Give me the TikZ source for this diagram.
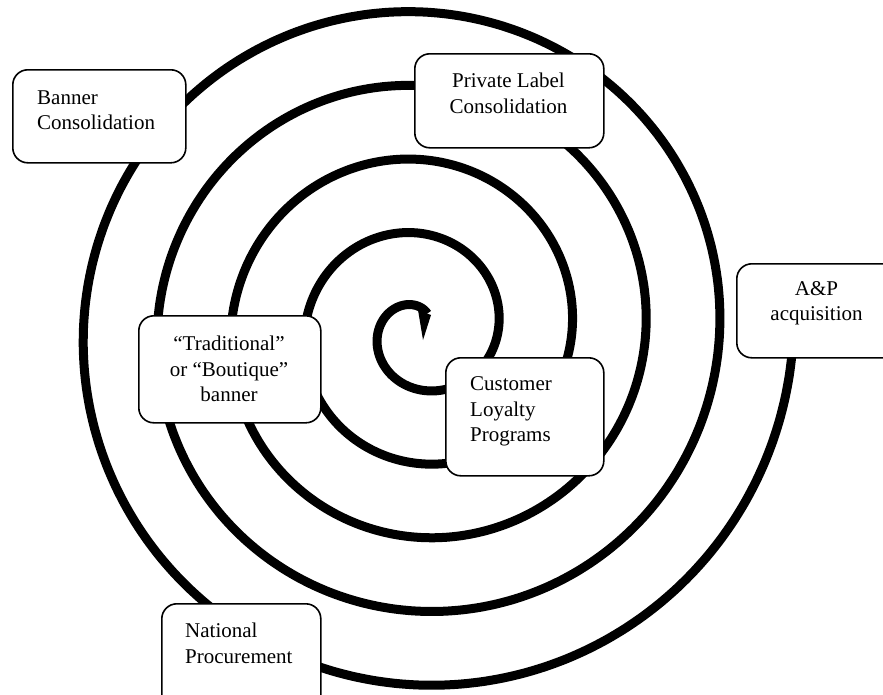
\documentclass[tikz,border=0pt]{standalone}
\usepackage{fontspec}
\setmainfont{Liberation Serif}
\begin{document}
\begin{tikzpicture}[x=1pt,y=-1pt,
  coil/.style={line width=9pt, line cap=butt},
  card/.style={draw, line width=1.6pt, rounded corners=15pt, fill=white,
               inner sep=0pt, anchor=north west},
  lbl/.style={font=\fontsize{21}{25.5}\selectfont, inner sep=0pt}]
\useasboundingbox (0,0) rectangle (883,694);
\clip (0,0) rectangle (883,694);

% Archimedean spiral, winding outward counter-clockwise
\draw[coil] plot[domain=66:1800, samples=500, smooth, variable=\t]
  ({420+(4.5+0.205*\t)*cos(\t)}, {330-(4.5+0.205*\t)*sin(\t)});
% pointed hook at the inner end
\fill (418,310) -- (431,315) -- (423,340) -- cycle;

% boxes
\node[card, minimum width=173pt, minimum height=93pt]  (banner)  at (12,69)   {};
\node[card, minimum width=189pt, minimum height=94pt]  (private) at (414,53)  {};
\node[card, minimum width=162pt, minimum height=94pt]  (ap)      at (736,263) {};
\node[card, minimum width=182pt, minimum height=107pt] (trad)    at (138,315) {};
\node[card, minimum width=158pt, minimum height=118pt] (loyal)   at (445,357) {};
\node[card, minimum width=159pt, minimum height=110pt] (natl)    at (161,603) {};

% labels
\node[lbl, align=left, anchor=west]  (bannerT)  at (37,110)    {Banner\\Consolidation};
\node[lbl, align=center]             (privateT) at (508.5,93.5) {Private Label\\Consolidation};
\node[lbl, align=center]             (apT)      at (816.5,303) {A\&P\\acquisition};
\node[lbl, align=center]             (tradT)    at (229,369)   {“Traditional”\\or “Boutique”\\banner};
\node[lbl, align=left, anchor=west]  (loyalT)   at (470,411.5) {Customer\\Loyalty\\Programs};
\node[lbl, align=left, anchor=west]  (natlT)    at (185,643.5) {National\\Procurement};
\end{tikzpicture}
\end{document}
